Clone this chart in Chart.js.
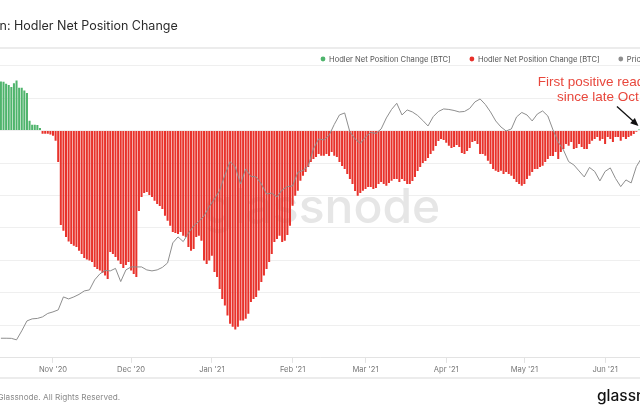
<!DOCTYPE html>
<html>
<head>
<meta charset="utf-8">
<script src="https://cdn.jsdelivr.net/npm/chart.js@4.4.1/dist/chart.umd.min.js"></script>
<style>
html, body { margin:0; padding:0; background:#fff; overflow:hidden; }
#wrap { position:relative; width:640px; height:413px; }
</style>
</head>
<body>
<div id="wrap"><canvas id="grafico"></canvas></div>
<script>

// daily values from this date on
let startDate = "2020-10-12"

// Hodler net position change [BTC], one per day
let netPosition = [
75400, 75000, 72000, 70000, 67000, 73000, 77000, 66000, 66000, 61500, 58000, 15000, 9000, 9000, 8500, 4000,
-5000, -5000, -5000, -6000, -8000, -15700, -48400,
-145300, -154100, -163800, -171000, -174600, -177200, -179200, -184900, -190000, -196100, -198700, -200200, -202200, -209900, -213000,
-215600, -219100, -223300, -228400, -186900, -190000, -194600, -200200, -205300, -211500, -206900, -202200, -215600, -220700, -225300,
-123800, -102300, -96100, -94600, -99200, -102300, -108000, -113000, -116100, -120700,
-131000, -138700, -146400, -156100, -157600, -159200, -156100, -161800, -163800, -179200, -184900, -182300, -163800, -161800, -169500,
-200200, -205300, -200200, -192600, -217600, -225300, -243800, -259200, -269500, -284800, -297600, -302200, -306400, -302200, -292500,
-292500, -289900, -282200, -263800, -259200, -256100, -246400, -233000, -223300, -213000, -202200, -190000, -171500, -166900, -161800,
-171500, -169500, -160700, -146400, -115700, -100300, -92600, -77200, -69500, -63800, -56100, -48400, -43800, -40800, -36100,
-38800, -38800, -36100, -39200, -33100, -38800, -40800, -48400, -54600, -59200, -66900, -74600, -82300, -93000, -100300,
-96100, -92600, -90000, -86900, -86900, -90000, -88400, -82300, -79200, -82300, -84900, -80700, -77200, -74600, -74600,
-79200, -74600, -77700, -82300, -82300, -77700, -71500, -62300, -56100, -50000, -46900, -42300, -36100, -31100, -23800,
-16100, -13100, -14600, -18800, -23400, -26900, -25400, -22300, -25400, -34600, -36100, -31500, -26900, -17700, -16100, -20800,
-36100, -36100, -38800, -46400, -51500, -59200, -61800, -63800, -61800, -66900, -63800, -66900, -69500, -74600, -79200,
-82300, -84900, -82300, -74600, -69500, -63800, -59200, -59200, -56100, -54100, -48400, -43800, -39200, -39200, -33100,
-43800, -33100, -28500, -20800, -23400, -17700, -28500, -26900, -20800, -25400, -28500, -28500, -20800, -15700, -13100,
-10000, -15700, -13100, -20800, -10000, -13100, -17700, -10000, -10000, -15700, -10000, -13100, -10000, -8000, -5400, -1800, 1500
]

// BTC price [USD], every second day from startDate
let priceEvery2Days = [
11500, 11500, 11490, 11370, 12120, 13010, 13200, 13240, 13390, 13720, 13870, 14070, 15430, 15210, 15430, 15710,
16100, 16220, 17420, 18180, 18630, 18570, 18900, 17210, 18700, 19100, 19100, 19100, 18700, 18570, 18700, 19040,
19650, 22660, 23650, 22870, 24280, 25570, 26400, 27460, 29330, 30980, 32910, 36750, 40400, 38900, 34470, 38360,
36360, 36230, 34470, 32100, 32270, 31430, 33030, 33820, 33990, 37410, 37950, 39180, 44210, 47470, 47140, 48670,
52630, 56310, 57120, 49900, 47470, 45980, 48150, 49720, 49370, 50970, 55120, 58560, 61200, 56310, 58350, 57530,
56110, 54150, 52070, 55630, 57730, 58770, 58560, 58140, 57530, 57730, 58980, 61770, 63100, 60680, 57530, 53960,
51700, 50250, 50970, 55520, 57320, 56310, 53960, 56710, 57940, 55910, 50610, 46470, 43900, 40400, 39460, 37810,
36230, 38760, 37680, 35220, 37680, 38630, 35850, 33820, 35470, 34720, 38990, 41470
]

let monthTicks = ["2020-11-01","2020-12-01","2021-01-01","2021-02-01","2021-03-01","2021-04-01","2021-05-01","2021-06-01"]
let monthLabels = ["Nov '20","Dec '20","Jan '21","Feb '21","Mar '21","Apr '21","May '21","Jun '21"]

let seriesNames = ["Hodler Net Position Change [BTC]","Hodler Net Position Change [BTC]","Price [USD]"]
let titleText = "Bitcoin: Hodler Net Position Change"
let noteLines = ["First positive reading","since late Oct"]
let footerText = "\u00a9 2021 Glassnode. All Rights Reserved."

// visible window, in days from startDate
let xMin = -0.35
let xMax = 245.4

function dayOf(d){
return (Date.parse(d) - Date.parse(startDate)) / 86400000
}

let tickDays = monthTicks.map(dayOf)

let positive = []
let negative = []
netPosition.forEach((v,i)=>{
if(v >= 0) positive.push({x:i, y:v})
else negative.push({x:i, y:v})
})
let price = priceEvery2Days.map((p,k)=>({x:k*2, y:p}))
let lastDay = netPosition.length - 1

let decor = {
id:"decor",
beforeDraw(chart){
let c = chart.ctx
c.save()
c.fillStyle = "#fff"
c.fillRect(0,0,chart.width,chart.height)
c.fillStyle = "#ececec"
c.fillRect(0,47,chart.width,2)
c.fillRect(0,377,chart.width,2)
c.restore()
},
beforeDatasetsDraw(chart){
let c = chart.ctx
let a = chart.chartArea
c.save()
c.font = "500 48px Inter"
c.fillStyle = "#e6e6e6"
c.textAlign = "center"
c.textBaseline = "alphabetic"
c.fillText("glassnode",(a.left+a.right)/2+2,223)
c.restore()
},
afterDraw(chart){
let c = chart.ctx
c.save()

// title, cut at the left edge like the screenshot
c.font = "12.5px Inter"
c.fillStyle = "#2b2b2b"
c.textBaseline = "alphabetic"
c.fillText(titleText, -c.measureText("Bitcoi").width - 0.5, 29.5)

// legend
c.font = "7.6px Inter"
c.textBaseline = "middle"
let lx = 323
chart.data.datasets.forEach(ds=>{
c.fillStyle = ds.legendColor
c.beginPath()
c.arc(lx,59,2.4,0,Math.PI*2)
c.fill()
c.fillStyle = "#555"
c.fillText(ds.label,lx+6,59.5)
lx += 6 + c.measureText(ds.label).width + 21
})

// note with arrow to the last bar
let ex = chart.scales.x.getPixelForValue(lastDay) - 2
let ey = chart.scales.y.getPixelForValue(0) - 6
let sx = ex - 20
let sy = ey - 18
c.strokeStyle = "#111"
c.lineWidth = 1.3
c.beginPath()
c.moveTo(sx,sy)
c.lineTo(ex,ey)
c.stroke()
let ang = Math.atan2(ey-sy, ex-sx)
c.fillStyle = "#111"
c.beginPath()
c.moveTo(ex+2*Math.cos(ang), ey+2*Math.sin(ang))
c.lineTo(ex-6*Math.cos(ang)+3.5*Math.sin(ang), ey-6*Math.sin(ang)-3.5*Math.cos(ang))
c.lineTo(ex-6*Math.cos(ang)-3.5*Math.sin(ang), ey-6*Math.sin(ang)+3.5*Math.cos(ang))
c.closePath()
c.fill()

c.font = "13.5px 'Liberation Sans', Arial"
c.fillStyle = "#e8473c"
c.textAlign = "center"
c.textBaseline = "alphabetic"
c.fillText(noteLines[0], ex-37, ey-39)
c.fillText(noteLines[1], ex-39, ey-23.5)

// footer
c.textAlign = "left"
c.font = "8.2px Inter"
c.fillStyle = "#8a8a8a"
c.fillText(footerText, -c.measureText("\u00a9 2021 ").width - 2.5, 400)
c.font = "500 15.5px Inter"
c.fillStyle = "#111"
c.fillText("glassnode", 597, 401)

c.restore()
}
}

let ctx = document.getElementById("grafico").getContext("2d")

let grafico = new Chart(ctx, {
type:"bar",
data:{
datasets:[
{type:"bar", label:seriesNames[0], data:positive, backgroundColor:"#4fb46c", legendColor:"#4fb46c", grouped:false, barPercentage:1, categoryPercentage:0.78, yAxisID:"y", order:1},
{type:"bar", label:seriesNames[1], data:negative, backgroundColor:"#e8322b", legendColor:"#e8302a", grouped:false, barPercentage:1, categoryPercentage:0.78, yAxisID:"y", order:1},
{type:"line", label:seriesNames[2], data:price, borderColor:"#8e8e8e", legendColor:"#8e8e8e", borderWidth:1, pointRadius:0, tension:0, yAxisID:"yPrice", order:0}
]
},
options:{
responsive:true,
maintainAspectRatio:false,
animation:false,
layout:{padding:{top:65.6, bottom:37, left:0, right:0}},
plugins:{legend:{display:false}, tooltip:{enabled:false}},
scales:{
x:{
type:"linear", min:xMin, max:xMax, offset:false,
afterBuildTicks(s){ s.ticks = tickDays.map(v=>({value:v})) },
ticks:{callback:(v,i)=>monthLabels[i], font:{family:"Inter", size:7.6}, color:"#777", padding:2, maxRotation:0, autoSkip:false},
grid:{drawOnChartArea:false, offset:false, tickLength:5, color:"#e3e3e3"},
border:{color:"#e3e3e3"}
},
y:{
min:-350000, max:100000,
ticks:{stepSize:50000, display:false},
grid:{color:"#efefef", drawTicks:false},
border:{display:false}
},
yPrice:{type:"logarithmic", min:10000, max:80000, display:false}
}
},
plugins:[decor]
})

</script>
</body>
</html>
